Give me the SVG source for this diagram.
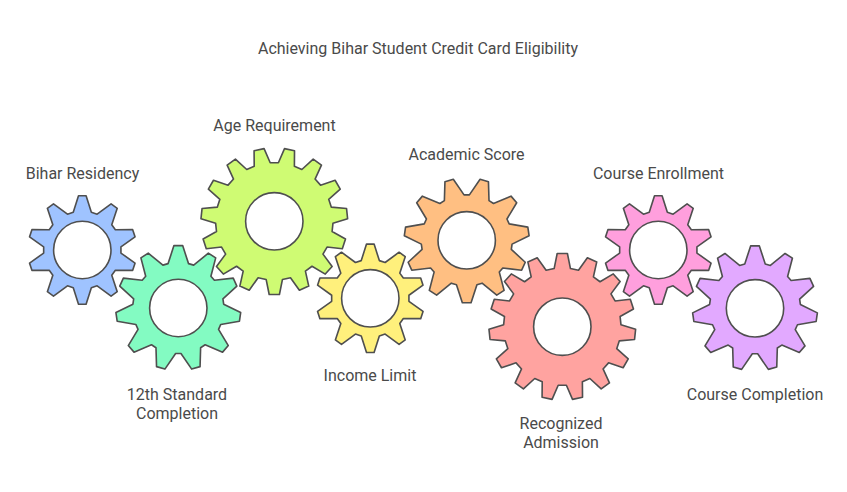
<svg xmlns="http://www.w3.org/2000/svg" width="847" height="492" viewBox="0 0 847 492">
<style>
text{font-family:Roboto,"Liberation Sans",sans-serif;font-size:16px;fill:#4a4a4a;text-anchor:middle}
.gear{stroke:#4f4f4f;stroke-width:1.6;stroke-linejoin:round}
.hole{fill:#fff;stroke:#4f4f4f;stroke-width:1.6}
</style>
<defs>
<path id="g10" d="M-8.94,-37.24 L-3.75,-53.57 3.75,-53.57 8.94,-37.24 14.66,-35.38 28.46,-45.54 34.52,-41.14 29.12,-24.87 32.66,-20.01 49.79,-20.12 52.10,-12.99 38.18,-3 38.18,3 52.10,12.99 49.79,20.12 32.66,20.01 29.12,24.87 34.52,41.14 28.46,45.54 14.66,35.38 8.94,37.24 3.75,53.57 -3.75,53.57 -8.94,37.24 -14.66,35.38 -28.46,45.54 -34.52,41.14 -29.12,24.87 -32.66,20.01 -49.79,20.12 -52.10,12.99 -38.18,3 -38.18,-3 -52.10,-12.99 -49.79,-20.12 -32.66,-20.01 -29.12,-24.87 -34.52,-41.14 -28.46,-45.54 -14.66,-35.38 Z"/>
<path id="g11" d="M4.31,-61.65 L10.12,-43.85 15.19,-42.36 29.71,-54.19 36.96,-49.53 32.22,-31.41 35.67,-27.44 54.29,-29.53 57.87,-21.69 44.09,-9.01 44.84,-3.78 61.63,4.51 60.41,13.04 41.96,16.26 39.77,21.06 49.41,37.12 43.77,43.63 26.51,36.36 22.05,39.23 21.50,57.94 13.23,60.37 2.64,44.92 -2.64,44.92 -13.23,60.37 -21.50,57.94 -22.05,39.23 -26.51,36.36 -43.77,43.63 -49.41,37.12 -39.77,21.06 -41.96,16.26 -60.41,13.04 -61.63,4.51 -44.84,-3.78 -44.09,-9.01 -57.87,-21.69 -54.29,-29.53 -35.67,-27.44 -32.22,-31.41 -36.96,-49.53 -29.71,-54.19 -15.19,-42.36 -10.12,-43.85 -4.31,-61.65 Z"/>
<path id="g15" d="M5.06,-72.32 L8.07,-57.44 15.99,-55.75 24.80,-68.13 34.04,-64.01 30.74,-49.19 37.28,-44.43 50.37,-52.15 57.13,-44.64 48.08,-32.43 52.13,-25.43 67.22,-27.16 70.35,-17.54 57.12,-10.07 57.96,-2.02 72.46,2.53 71.40,12.59 56.28,14.03 53.78,21.73 65.16,31.78 60.10,40.54 45.70,35.71 40.29,41.72 46.60,55.54 38.42,61.48 27.23,51.21 19.84,54.50 19.98,69.69 10.09,71.80 4.05,57.86 -4.05,57.86 -10.09,71.80 -19.98,69.69 -19.84,54.50 -27.23,51.21 -38.42,61.48 -46.60,55.54 -40.29,41.72 -45.70,35.71 -60.10,40.54 -65.16,31.78 -53.78,21.73 -56.28,14.03 -71.40,12.59 -72.46,2.53 -57.96,-2.02 -57.12,-10.07 -70.35,-17.54 -67.22,-27.16 -52.13,-25.43 -48.08,-32.43 -57.13,-44.64 -50.37,-52.15 -37.28,-44.43 -30.74,-49.19 -34.04,-64.01 -24.80,-68.13 -15.99,-55.75 -8.07,-57.44 -5.06,-72.32 Z"/>
</defs>
<text id="title" x="418" y="53.5">Achieving Bihar Student Credit Card Eligibility</text>
<g id="connectors"></g>
<g id="bihar-residency">
<use href="#g10" class="gear" fill="#9fc3ff" transform="translate(82.3,250) scale(1.012)"/>
<circle class="hole" cx="82.3" cy="250" r="28.7"/>
<text x="82.5" y="178.5">Bihar Residency</text>
</g>
<g id="standard-completion">
<use href="#g11" class="gear" fill="#83fbc2" transform="translate(178.3,308) scale(1.012)"/>
<circle class="hole" cx="178.3" cy="308" r="28.7"/>
<text x="177" y="399.5">12th Standard</text>
<text x="177" y="419">Completion</text>
</g>
<g id="age-requirement">
<use href="#g15" class="gear" fill="#cffb73" transform="translate(274.3,221.3) rotate(180) scale(1.012)"/>
<circle class="hole" cx="274.3" cy="221.3" r="28.7"/>
<text x="274.5" y="130.5">Age Requirement</text>
</g>
<g id="income-limit">
<use href="#g10" class="gear" fill="#fff07c" transform="translate(370.3,298.3) scale(1.012)"/>
<circle class="hole" cx="370.3" cy="298.3" r="28.7"/>
<text x="370" y="380.5">Income Limit</text>
</g>
<g id="academic-score">
<use href="#g11" class="gear" fill="#ffbf82" transform="translate(466.7,240.3) rotate(180) scale(1.012)"/>
<circle class="hole" cx="466.7" cy="240.3" r="28.7"/>
<text x="466.5" y="159.5">Academic Score</text>
</g>
<g id="recognized-admission">
<use href="#g15" class="gear" fill="#ffa3a0" transform="translate(562.3,326.7) scale(1.012)"/>
<circle class="hole" cx="562.3" cy="326.7" r="28.7"/>
<text x="561" y="428.5">Recognized</text>
<text x="561" y="448">Admission</text>
</g>
<g id="course-enrollment">
<use href="#g10" class="gear" fill="#ff9fdd" transform="translate(658.3,250) scale(1.012)"/>
<circle class="hole" cx="658.3" cy="250" r="28.7"/>
<text x="658.5" y="178.5">Course Enrollment</text>
</g>
<g id="course-completion">
<use href="#g11" class="gear" fill="#e2a9ff" transform="translate(755,308.3) scale(1.012)"/>
<circle class="hole" cx="755" cy="308.3" r="28.7"/>
<text x="755" y="399.5">Course Completion</text>
</g>
</svg>
